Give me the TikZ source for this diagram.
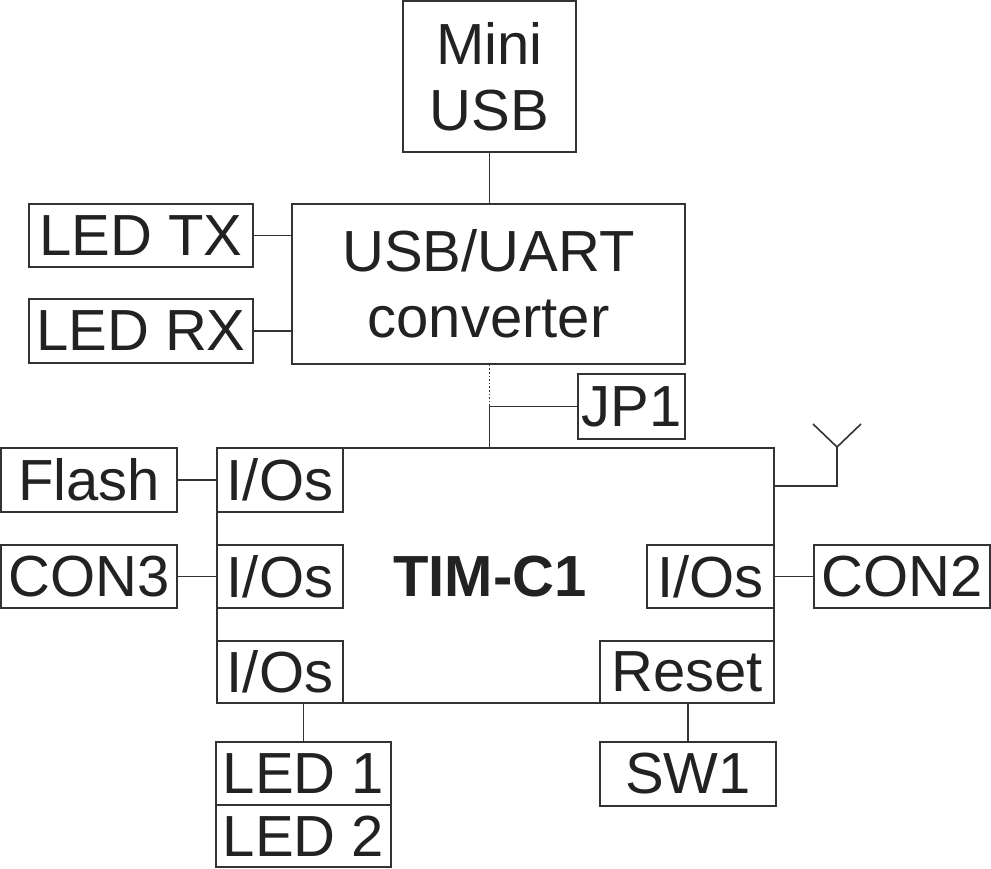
\documentclass[tikz,border=0pt]{standalone}
\usepackage{fontspec}
\setmainfont{Liberation Sans}
\definecolor{linecol}{HTML}{333333}
\definecolor{textcol}{HTML}{222222}
\begin{document}
\begin{tikzpicture}[x=1pt,y=-1pt,
  blk/.style={draw=linecol, line width=1.6pt, inner sep=0pt, text=textcol,
    font=\fontsize{58}{66}\selectfont, align=center},
  wire/.style={draw=linecol, line width=1.6pt},
  dotwire/.style={draw=linecol, line width=1.6pt, dotted},
]
\useasboundingbox (0,0) rectangle (991,869);
% boxes
\node[blk, minimum width=173, minimum height=151] (mini) at (489.5,76.5) {Mini\\USB};
\node[blk, minimum width=393, minimum height=160] (conv) at (488.5,284) {USB/UART\\converter};
\node[blk, minimum width=224, minimum height=63] (ledtx) at (141,235.5) {LED TX};
\node[blk, minimum width=224, minimum height=64] (ledrx) at (141,331) {LED RX};
\node[blk, minimum width=107, minimum height=65] (jp1) at (631.5,406.5) {JP1};
\node[blk, minimum width=557, minimum height=255] (main) at (495.5,575.5) {};
\node[text=textcol, inner sep=0pt, font=\fontsize{58}{66}\selectfont\bfseries] (tim) at (490,577) {TIM-C1};
\node[blk, minimum width=176, minimum height=64] (flash) at (89,480) {Flash};
\node[blk, minimum width=126, minimum height=64] (io1) at (280,480) {I/Os};
\node[blk, minimum width=176, minimum height=63] (con3) at (89,576.5) {CON3};
\node[blk, minimum width=126, minimum height=63] (io2) at (280,576.5) {I/Os};
\node[blk, minimum width=126, minimum height=62] (io3) at (280,672) {I/Os};
\node[blk, minimum width=127, minimum height=63] (io4) at (710.5,576.5) {I/Os};
\node[blk, minimum width=176, minimum height=63] (con2) at (902,576.5) {CON2};
\node[blk, minimum width=174, minimum height=62] (reset) at (687,672) {Reset};
\node[blk, minimum width=176, minimum height=64] (sw1) at (688,774) {SW1};
\node[blk, minimum width=175, minimum height=63] (led1) at (303.5,773.5) {LED 1};
\node[blk, minimum width=175, minimum height=62] (led2) at (303.5,836) {LED 2};
% connectors
\draw[wire] (mini.south) -- (mini.south |- conv.north);
\draw[wire] (ledtx.east) -- (ledtx.east -| conv.west);
\draw[wire] (ledrx.east) -- (ledrx.east -| conv.west);
\coordinate (jpj) at (mini.south |- jp1.west);
\draw[dotwire] (jpj |- conv.south) -- (jpj);
\draw[wire] (jp1.west) -- (jpj) -- (jpj |- main.north);
\draw[wire] (flash.east) -- (io1.west);
\draw[wire] (con3.east) -- (io2.west);
\draw[wire] (io4.east) -- (con2.west);
\draw[wire] (led1.north) -- (led1.north |- io3.south);
\draw[wire] (sw1.north) -- (sw1.north |- reset.south);
% antenna
\coordinate (antfoot) at (837,486);
\coordinate (anttop) at (837,447);
\coordinate (armL) at (813,424);
\coordinate (armR) at (861,424);
\draw[wire] (antfoot -| main.east) -- (antfoot) -- (anttop) -- (armL);
\draw[wire] (anttop) -- (armR);
\end{tikzpicture}
\end{document}
